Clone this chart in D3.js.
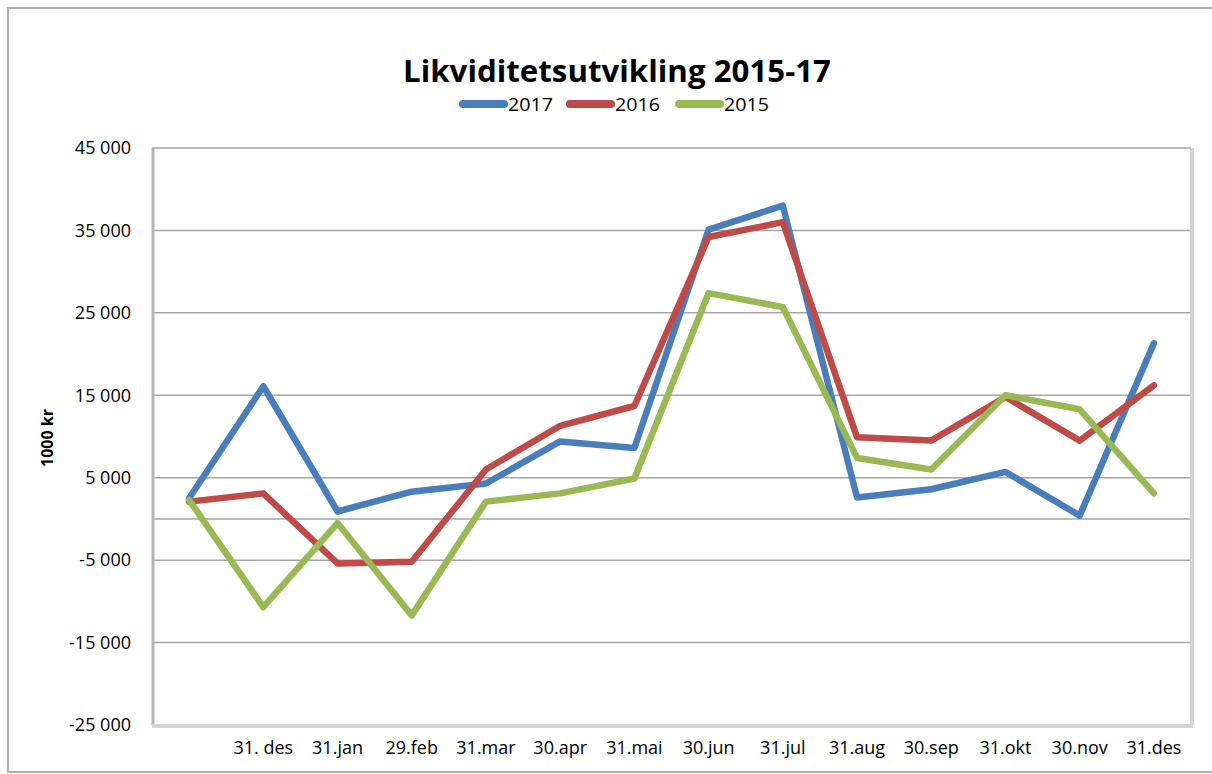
<!DOCTYPE html>
<html>
<head>
<meta charset="utf-8">
<script src="https://cdnjs.cloudflare.com/ajax/libs/d3/7.8.5/d3.min.js"></script>
<style>
	body { margin: 0; background: #fff; }
	svg text { font-family: "Open Sans", "Liberation Sans", sans-serif; fill: #000; }
</style>
</head>
<body>
<script>
//--data--
var categories = ["", "31. des", "31.jan", "29.feb", "31.mar", "30.apr", "31.mai", "30.jun", "31.jul", "31.aug", "30.sep", "31.okt", "30.nov", "31.des"];
var values_2017 = [2500, 16100, 900, 3300, 4300, 9400, 8600, 35100, 38000, 2600, 3600, 5700, 400, 21300];
var values_2016 = [2100, 3100, -5400, -5200, 6000, 11300, 13700, 34200, 36000, 9900, 9500, 14800, 9500, 16200];
var values_2015 = [2300, -10700, -500, -11700, 2100, 3100, 4900, 27400, 25700, 7400, 6000, 15000, 13300, 3100];
var y_ticks = [45000, 35000, 25000, 15000, 5000, -5000, -15000, -25000];
var series_names = ["2017", "2016", "2015"];
//--END data--

var chart_w = 1212, chart_h = 774;
var plot_left = 152, plot_right = 1191, plot_top = 148, plot_bottom = 725;
var colors = { "2017": "#4a7ebb", "2016": "#be4b48", "2015": "#98b954" };

var svg = d3.select("body").append("svg")
	.attr("width", chart_w)
	.attr("height", chart_h);

//outer frame
svg.append("rect")
	.attr("x", 8).attr("y", 8)
	.attr("width", chart_w + 20).attr("height", chart_h - 10)
	.style("fill", "none")
	.style("stroke", "#b0b0b0")
	.style("stroke-width", 2);

var x = d3.scaleBand().domain(categories.map(function (d, i) { return i; }))
	.range([plot_left, plot_right]);
var y = d3.scaleLinear().domain([-25000, 45000]).range([plot_bottom, plot_top]);

//gridlines (+ zero line)
svg.append("g")
	.selectAll("line")
	.data(y_ticks.slice(0, -1).concat([0]))
	.join("line")
	.attr("x1", plot_left).attr("x2", plot_right)
	.attr("y1", function (d) { return y(d); })
	.attr("y2", function (d) { return y(d); })
	.style("stroke", "#a6a6a6")
	.style("stroke-width", 1.5);

//plot area border (left, bottom, right)
svg.append("line")
	.attr("x1", plot_left + 1).attr("x2", plot_left + 1).attr("y1", plot_top).attr("y2", plot_bottom)
	.style("stroke", "#b5b5b5").style("stroke-width", 3);
svg.append("line")
	.attr("x1", plot_left).attr("x2", plot_right + 2).attr("y1", plot_bottom + 1).attr("y2", plot_bottom + 1)
	.style("stroke", "#d4d4d4").style("stroke-width", 4);
svg.append("line")
	.attr("x1", plot_right + 1).attr("x2", plot_right + 1).attr("y1", plot_top).attr("y2", plot_bottom)
	.style("stroke", "#d4d4d4").style("stroke-width", 4);

//y axis (space as thousands separator, plain hyphen for minus)
var y_axis = d3.axisLeft(y)
	.tickValues(y_ticks)
	.tickSize(0)
	.tickPadding(21)
	.tickFormat(function (d) { return d3.format(",")(d).replace(/,/g, " ").replace("\u2212", "-"); });
var y_g = svg.append("g")
	.attr("transform", "translate(" + plot_left + ",0)")
	.call(y_axis);
y_g.select(".domain").remove();
y_g.selectAll("text").style("font-size", "18px").style("font-family", "'Open Sans', sans-serif");

//x axis (labels at the bottom)
var x_axis = d3.axisBottom(x)
	.tickSize(0)
	.tickPadding(16)
	.tickFormat(function (d) { return categories[d]; });
var x_g = svg.append("g")
	.attr("transform", "translate(0," + plot_bottom + ")")
	.call(x_axis);
x_g.select(".domain").remove();
x_g.selectAll("text").style("font-size", "18px").style("font-family", "'Open Sans', sans-serif");

//y axis title
svg.append("text")
	.attr("transform", "translate(53,438) rotate(-90)")
	.attr("text-anchor", "middle")
	.style("font-size", "16px")
	.style("font-weight", "bold")
	.text("1000 kr");

//lines
var line = d3.line()
	.x(function (d, i) { return x(i) + x.bandwidth() / 2; })
	.y(function (d) { return y(d); });

var series = [
	{ name: "2017", values: values_2017 },
	{ name: "2016", values: values_2016 },
	{ name: "2015", values: values_2015 }
];

svg.append("g")
	.selectAll("path")
	.data(series)
	.join("path")
	.attr("d", function (d) { return line(d.values); })
	.style("fill", "none")
	.style("stroke", function (d) { return colors[d.name]; })
	.style("stroke-width", 6.5)
	.style("stroke-linejoin", "round")
	.style("stroke-linecap", "round");

//title
svg.append("text")
	.attr("x", 617).attr("y", 82)
	.attr("text-anchor", "middle")
	.attr("textLength", 428)
	.attr("lengthAdjust", "spacingAndGlyphs")
	.style("font-size", "30px")
	.style("font-weight", "bold")
	.text("Likviditetsutvikling 2015-17");

//legend
var legend_x = [460, 567, 676];
var legend = svg.append("g")
	.selectAll("g")
	.data(series_names)
	.join("g")
	.attr("transform", function (d, i) { return "translate(" + legend_x[i] + ",104)"; });
legend.append("line")
	.attr("x1", 3).attr("x2", 44)
	.style("stroke", function (d) { return colors[d]; })
	.style("stroke-width", 8)
	.style("stroke-linecap", "round");
legend.append("text")
	.attr("x", 48).attr("y", 7)
	.attr("textLength", 45)
	.attr("lengthAdjust", "spacingAndGlyphs")
	.style("font-size", "19px")
	.text(function (d) { return d; });
</script>
</body>
</html>
